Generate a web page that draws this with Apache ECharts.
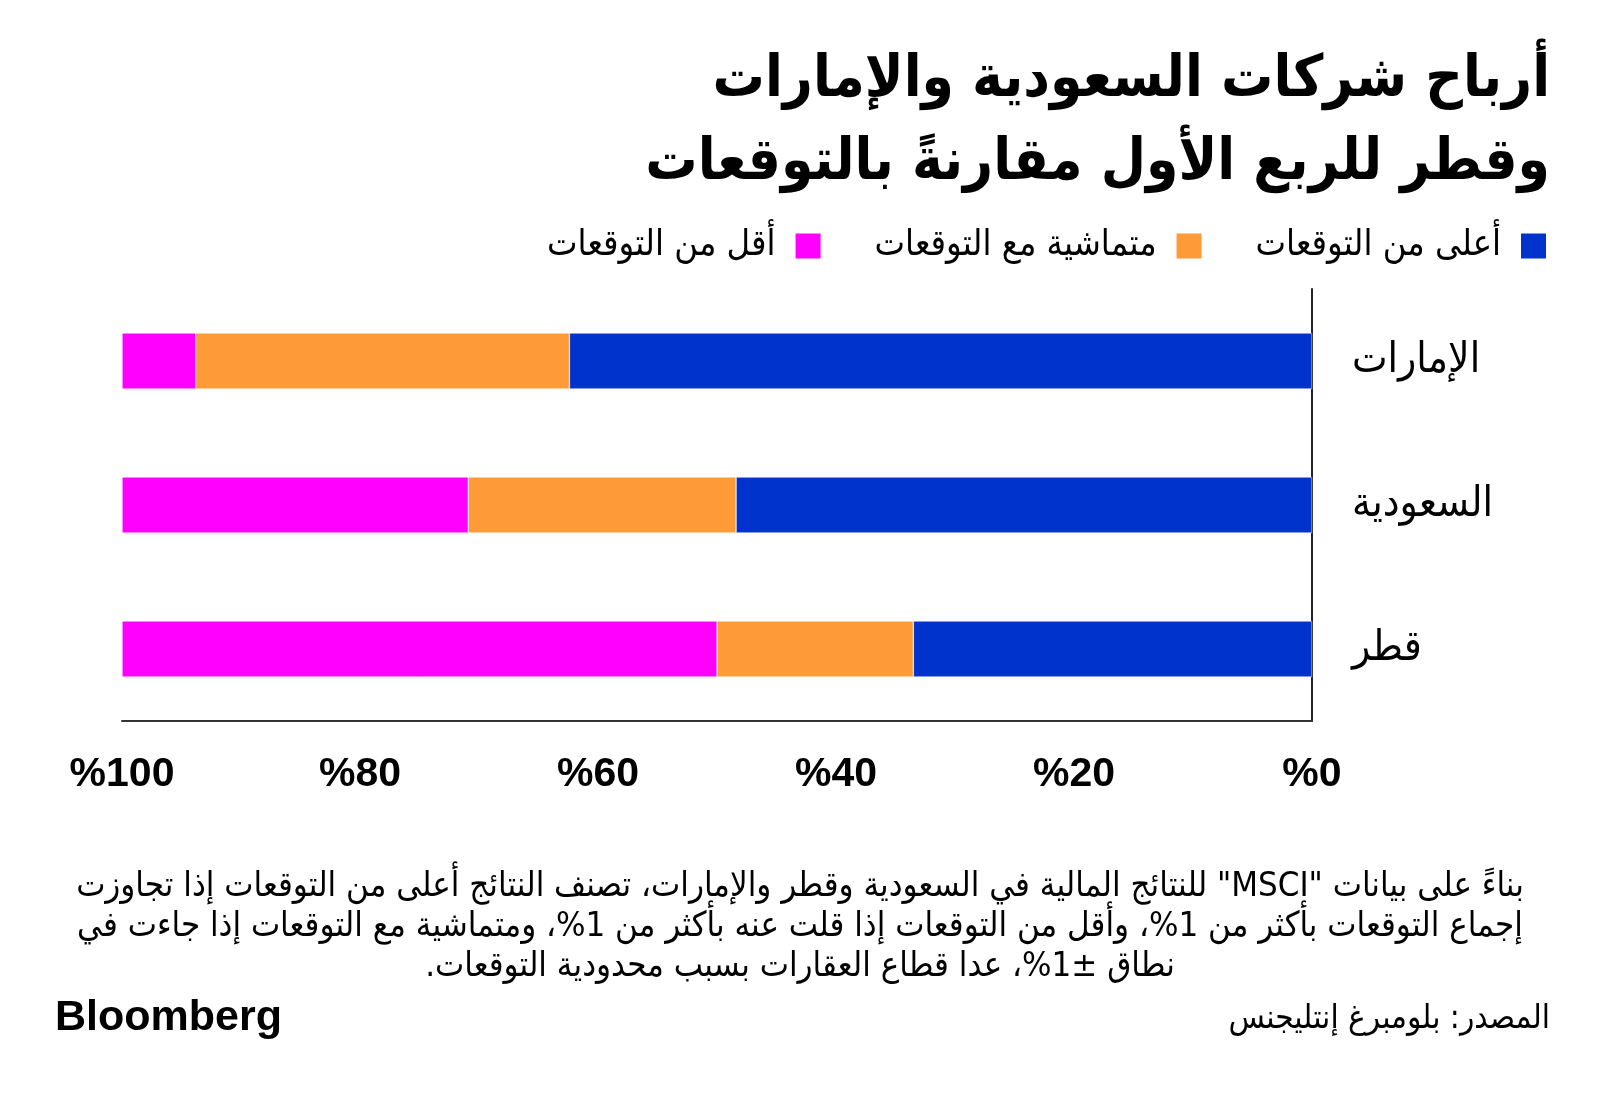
<!DOCTYPE html>
<html>
<head>
<meta charset="utf-8">
<script src="https://cdn.jsdelivr.net/npm/echarts@6/dist/echarts.min.js"></script>
<style>
  html, body { margin: 0; padding: 0; background: #fff; }
  #chart { width: 1600px; height: 1099px; }
</style>
</head>
<body>
<div id="chart"></div>
<script>
// data
const countries = ["الإمارات", "السعودية", "قطر"];
const seriesNames = ["أعلى من التوقعات", "متماشية مع التوقعات", "أقل من التوقعات"];
const above = [62.4, 48.4, 33.5];
const inLine = [31.4, 22.5, 16.5];
const below = [6.2, 29.1, 50.0];
const xTicks = [0, 20, 40, 60, 80, 100];

const colors = ["#0033cc", "#ff9a38", "#ff00ff"];
const arFont = "DejaVu Sans Condensed";

// wrap each line in a right-to-left embedding so mixed text orders correctly
const rtl = (s) => s.split("\n").map((l) => "\u202B" + l + "\u202C").join("\n");

const chart = echarts.init(document.getElementById("chart"));

const titleStyle = { fontFamily: arFont, fontSize: 58, fontWeight: 900, color: "#000" };

const option = {
  backgroundColor: "#fff",
  animation: false,
  title: [
    // one entry per line so each line sits flush right
    { text: "أرباح شركات السعودية والإمارات", right: 45, top: 47, textStyle: titleStyle },
    { text: "وقطر للربع الأول مقارنةً بالتوقعات", right: 45, top: 130, textStyle: titleStyle },
    {
      text: rtl("بناءً على بيانات \"MSCI\" للنتائج المالية في السعودية وقطر والإمارات، تصنف النتائج أعلى من التوقعات إذا تجاوزت\nإجماع التوقعات بأكثر من 1%، وأقل من التوقعات إذا قلت عنه بأكثر من 1%، ومتماشية مع التوقعات إذا جاءت في\nنطاق ±1%، عدا قطاع العقارات بسبب محدودية التوقعات."),
      left: "center",
      top: 862,
      textStyle: { fontFamily: arFont, fontSize: 34.5, fontWeight: "normal", lineHeight: 40, color: "#000" },
    },
    {
      text: "المصدر: بلومبرغ إنتليجنس",
      right: 45,
      top: 998,
      textStyle: { fontFamily: arFont, fontSize: 33, fontWeight: "normal", color: "#000" },
    },
    {
      text: "Bloomberg",
      left: 50,
      top: 992,
      textStyle: { fontFamily: "Liberation Sans", fontSize: 43, fontWeight: "bold", color: "#000" },
    },
  ],
  legend: {
    data: [seriesNames[2], seriesNames[1], seriesNames[0]],
    right: 52,
    top: 228,
    padding: 0,
    align: "right",
    itemWidth: 27,
    itemHeight: 27,
    itemGap: 52,
    icon: "rect",
    textStyle: { fontFamily: arFont, fontSize: 36, color: "#000", padding: [0, 14, 0, 0] },
  },
  grid: { left: 122, right: 288, top: 289, bottom: 378, containLabel: false },
  xAxis: {
    type: "value",
    min: 0,
    max: 100,
    interval: 20,
    inverse: true,
    splitLine: { show: false },
    axisTick: { show: false },
    axisLine: { show: true, lineStyle: { color: "#333", width: 2 } },
    axisLabel: {
      margin: 33,
      fontFamily: "Liberation Sans",
      fontSize: 41,
      fontWeight: "bold",
      color: "#000",
      formatter: (v) => (xTicks.includes(v) ? "%" + v : ""),
    },
  },
  yAxis: {
    type: "category",
    data: countries,
    inverse: true,
    position: "right",
    axisTick: { show: false },
    axisLine: { show: true, lineStyle: { color: "#222", width: 2 } },
    axisLabel: { margin: 40, align: "left", fontFamily: arFont, fontSize: 42, color: "#000" },
  },
  series: [
    { name: seriesNames[0], type: "bar", stack: "total", barWidth: 56, data: above, itemStyle: { color: colors[0], borderColor: "#fff", borderWidth: 0.5 } },
    { name: seriesNames[1], type: "bar", stack: "total", barWidth: 56, data: inLine, itemStyle: { color: colors[1], borderColor: "#fff", borderWidth: 0.5 } },
    { name: seriesNames[2], type: "bar", stack: "total", barWidth: 56, data: below, itemStyle: { color: colors[2], borderColor: "#fff", borderWidth: 0.5 } },
  ],
};

chart.setOption(option);
</script>
</body>
</html>
